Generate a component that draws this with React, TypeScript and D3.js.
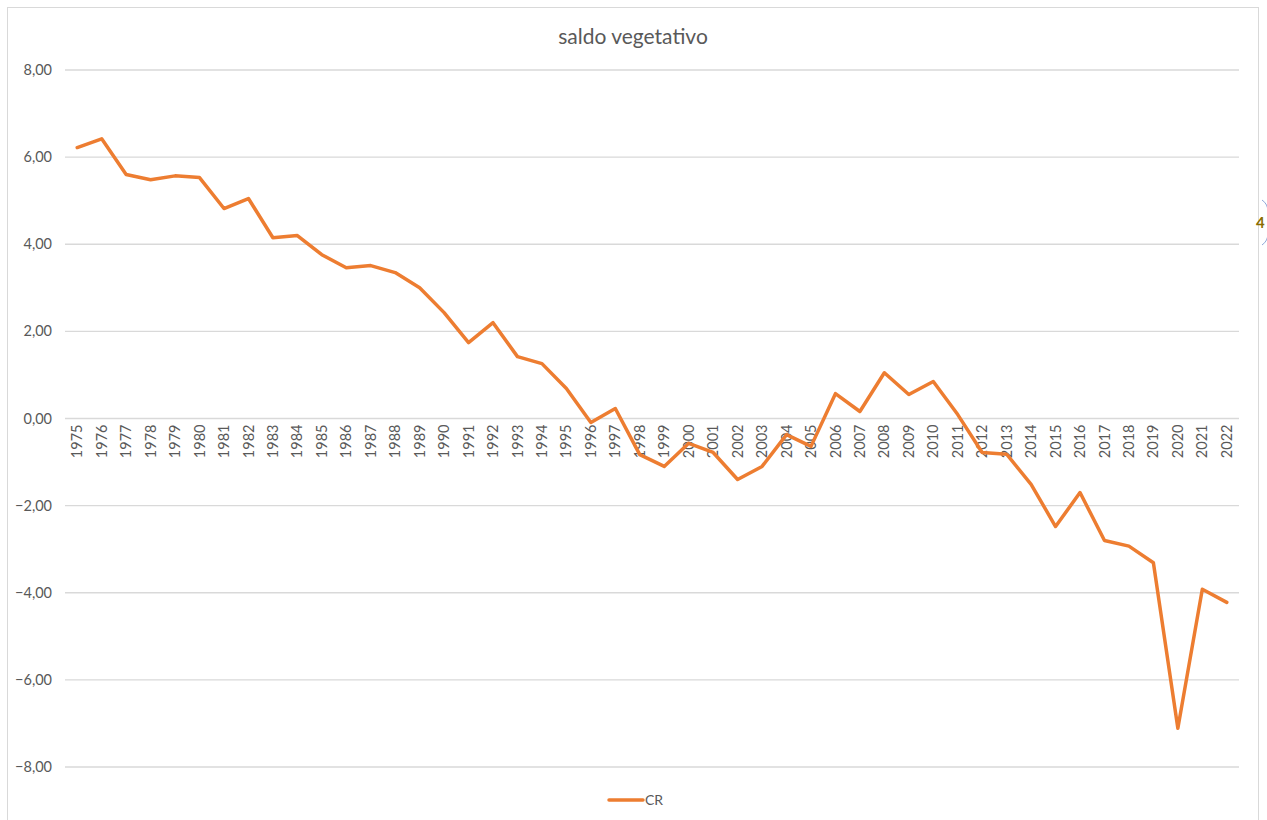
import React from "react";
import * as d3 from "d3";

const years: string[] = [
  "1975","1976","1977","1978","1979","1980","1981","1982","1983","1984",
  "1985","1986","1987","1988","1989","1990","1991","1992","1993","1994",
  "1995","1996","1997","1998","1999","2000","2001","2002","2003","2004",
  "2005","2006","2007","2008","2009","2010","2011","2012","2013","2014",
  "2015","2016","2017","2018","2019","2020","2021","2022",
];
const crValues: number[] = [
  6.22, 6.42, 5.60, 5.48, 5.57, 5.53, 4.82, 5.05, 4.15, 4.20,
  3.76, 3.46, 3.51, 3.35, 3.00, 2.43, 1.74, 2.20, 1.42, 1.26,
  0.69, -0.09, 0.23, -0.83, -1.10, -0.57, -0.78, -1.40, -1.10, -0.37,
  -0.64, 0.57, 0.16, 1.05, 0.55, 0.85, 0.09, -0.78, -0.82, -1.51,
  -2.48, -1.70, -2.80, -2.93, -3.31, -7.11, -3.92, -4.22,
];
const yTicks: number[] = [8, 6, 4, 2, 0, -2, -4, -6, -8];
const title = "saldo vegetativo";
const seriesName = "CR";

const W = 1267;
const H = 820;
const plotLeft = 65;
const plotRight = 1239;
const plotTop = 70;
const plotBottom = 767;
const font = "Lato, 'Open Sans', 'Liberation Sans', sans-serif";
const orange = "#ED7D31";
const grid = "#d9d9d9";
const tickColor = "#595959";

export default function App() {
  const x = d3.scaleBand<string>().domain(years).range([plotLeft, plotRight]);
  const y = d3.scaleLinear().domain([-8, 8]).range([plotBottom, plotTop]);
  const fmt = (v: number) => d3.format(".2f")(v).replace(".", ",");
  const line = d3
    .line<number>()
    .x((_, i) => (x(years[i]) as number) + x.bandwidth() / 2)
    .y((d) => y(d));

  return (
    <svg
      width={W}
      height={H}
      style={{ position: "absolute", left: 0, top: 0, background: "#fff" }}
    >
      <rect x={0} y={0} width={W} height={H} fill="#fff" />
      <rect x={7.5} y={7.5} width={1251} height={830} fill="#fff" stroke={grid} strokeWidth={1} />
      <text
        x={633}
        y={44}
        textAnchor="middle"
        fontFamily={font}
        fontSize={21}
        fill={tickColor}
      >
        {title}
      </text>
      {yTicks.map((t) => (
        <g key={t}>
          <line x1={plotLeft} x2={plotRight} y1={y(t)} y2={y(t)} stroke={grid} strokeWidth={1.3} />
          <text
            x={52}
            y={y(t)}
            dy="0.35em"
            textAnchor="end"
            fontFamily={font}
            fontSize={14.5}
            fill={tickColor}
          >
            {fmt(t)}
          </text>
        </g>
      ))}
      {years.map((yr) => {
        const cx = (x(yr) as number) + x.bandwidth() / 2;
        return (
          <text
            key={yr}
            transform={`translate(${cx},${y(0) + 6}) rotate(-90)`}
            dy="0.35em"
            textAnchor="end"
            fontFamily={font}
            fontSize={14.5}
            fill={tickColor}
          >
            {yr}
          </text>
        );
      })}
      <path
        d={line(crValues) || ""}
        fill="none"
        stroke={orange}
        strokeWidth={3.5}
        strokeLinejoin="round"
        strokeLinecap="round"
      />
      <line x1={609} x2={643} y1={800} y2={800} stroke={orange} strokeWidth={3.5} strokeLinecap="round" />
      <text x={645} y={800} dy="0.35em" fontFamily={font} fontSize={14} fill={tickColor}>
        {seriesName}
      </text>
      <path d="M1262,200 Q1268,204 1268,212" fill="none" stroke="#8fa8d8" strokeWidth={1} />
      <path d="M1262,245 Q1268,241 1268,233" fill="none" stroke="#8fa8d8" strokeWidth={1} />
      <text x={1256} y={223} dy="0.35em" fontFamily={font} fontSize={15} fontWeight="bold" fill="#8a6d00">
        4
      </text>
    </svg>
  );
}
